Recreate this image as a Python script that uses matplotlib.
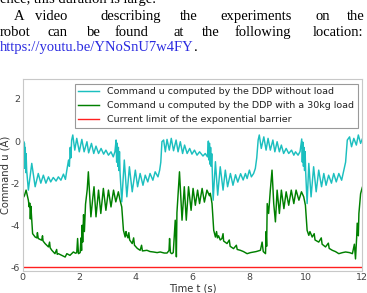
import matplotlib
matplotlib.use("Agg")
from matplotlib import pyplot as plt

plt.rcParams["axes.unicode_minus"] = False

# Courbes (temps en s, commande en A)
t_sans_charge = [0.0, 0.02, 0.03, 0.05, 0.06, 0.08, 0.09, 0.11, 0.12, 0.14, 0.2, 0.32, 0.44, 0.55, 0.64,
                 0.73, 0.82, 0.91, 0.99, 1.08, 1.18, 1.26, 1.35, 1.44, 1.51, 1.56, 1.62, 1.65, 1.68, 1.7,
                 1.73, 1.77, 1.84, 1.91, 2.0, 2.09, 2.17, 2.27, 2.33, 2.43, 2.51, 2.59, 2.68, 2.77, 2.86,
                 2.94, 3.03, 3.12, 3.2, 3.26, 3.3, 3.32, 3.34, 3.36, 3.38, 3.4, 3.42, 3.44, 3.5, 3.59,
                 3.68, 3.77, 3.87, 3.98, 4.06, 4.15, 4.25, 4.33, 4.42, 4.5, 4.6, 4.68, 4.78, 4.84, 4.88,
                 4.92, 4.98, 5.04, 5.1, 5.18, 5.25, 5.33, 5.42, 5.49, 5.57, 5.65, 5.72, 5.81, 5.9, 5.98,
                 6.07, 6.16, 6.25, 6.37, 6.45, 6.53, 6.56, 6.58, 6.6, 6.62, 6.64, 6.66, 6.68, 6.73, 6.81,
                 6.89, 6.98, 7.08, 7.16, 7.24, 7.34, 7.43, 7.52, 7.6, 7.7, 7.79, 7.87, 7.93, 8.01, 8.08,
                 8.16, 8.22, 8.27, 8.32, 8.36, 8.43, 8.52, 8.6, 8.67, 8.75, 8.84, 8.91, 8.99, 9.07, 9.14,
                 9.22, 9.31, 9.4, 9.5, 9.58, 9.64, 9.73, 9.8, 9.86, 9.88, 9.9, 9.92, 9.94, 9.96, 9.98,
                 10.0, 10.05, 10.11, 10.19, 10.28, 10.37, 10.46, 10.56, 10.64, 10.72, 10.81, 10.91, 10.99,
                 11.08, 11.17, 11.27, 11.35, 11.41, 11.47, 11.55, 11.62, 11.7, 11.79, 11.86, 11.94, 12.0]
u_sans_charge = [0.1, -1.0, 0.0, -1.3, -0.1, -1.2, -0.3, -1.5, -0.6, -1.38, -2.33, -1.06, -2.17, -1.54, -2.0,
                 -1.62, -2.0, -1.7, -1.94, -1.73, -1.9, -1.7, -1.86, -1.57, -1.82, -1.38, -0.9, -1.2, -0.3, -0.8,
                 0.05, 0.29, -0.43, 0.13, -0.51, 0.08, -0.51, -0.03, -0.56, -0.11, -0.59, -0.24, -0.59, -0.35, -0.62,
                 -0.43, -0.67, -0.51, -0.75, -0.5, 0.05, -1.0, -0.1, -1.2, -0.3, -1.4, -0.5, -1.5, -2.89, -0.9,
                 -2.65, -1.22, -2.41, -1.38, -2.17, -1.54, -2.1, -1.62, -1.94, -1.54, -1.86, -1.46, -1.7, -1.38, -1.0,
                 -0.03, 0.05, -0.51, 0.08, -0.43, 0.13, -0.46, 0.05, -0.51, -0.03, -0.59, -0.19, -0.59, -0.35, -0.62,
                 -0.43, -0.67, -0.51, -0.71, -0.59, -0.75, 0.0, -0.9, -0.1, -1.1, -0.3, -1.2, -0.6, -2.81, -0.98,
                 -2.57, -1.22, -2.33, -1.38, -2.17, -1.54, -2.1, -1.6, -1.95, -1.55, -1.85, -1.54, -1.78, -1.38, -1.7,
                 -1.54, -1.3, -0.8, 0.05, 0.29, -0.35, 0.2, -0.43, 0.13, -0.43, 0.05, -0.51, -0.03, -0.51, -0.19,
                 -0.59, -0.35, -0.59, -0.43, -0.67, -0.51, -0.67, -0.5, 0.1, -1.0, -0.05, -1.2, -0.3, -1.4, -0.5,
                 -1.5, -2.97, -1.06, -2.65, -1.22, -2.41, -1.38, -2.17, -1.54, -2.1, -1.62, -2.0, -1.54,
                 -1.94, -1.54, -1.86, -1.38, -1.0, 0.05, 0.2, -0.27, 0.13, -0.19, 0.29, -0.11, 0.1]

t_charge = [0.0, 0.06, 0.12, 0.2, 0.23, 0.25, 0.27, 0.29, 0.32, 0.35, 0.44, 0.5, 0.52, 0.55, 0.67, 0.7,
            0.72, 0.79, 0.91, 0.95, 0.97, 1.03, 1.14, 1.2, 1.22, 1.26, 1.38, 1.5, 1.56, 1.67, 1.79, 1.87,
            1.91, 1.94, 1.97, 2.03, 2.06, 2.08, 2.1, 2.12, 2.15, 2.18, 2.22, 2.28, 2.32, 2.41, 2.48, 2.52,
            2.59, 2.68, 2.76, 2.85, 2.94, 3.03, 3.12, 3.21, 3.29, 3.38, 3.44, 3.5, 3.56, 3.62, 3.65, 3.68,
            3.72, 3.75, 3.78, 3.87, 3.92, 3.95, 4.05, 4.15, 4.2, 4.23, 4.39, 4.5, 4.62, 4.75, 4.86, 5.0,
            5.1, 5.17, 5.19, 5.22, 5.27, 5.32, 5.36, 5.39, 5.42, 5.43, 5.45, 5.49, 5.54, 5.63, 5.71, 5.78,
            5.86, 5.95, 6.02, 6.1, 6.18, 6.25, 6.34, 6.42, 6.51, 6.6, 6.63, 6.69, 6.75, 6.81, 6.85, 6.88,
            6.92, 6.98, 7.04, 7.08, 7.1, 7.22, 7.3, 7.33, 7.45, 7.55, 7.58, 7.69, 7.8, 7.93, 8.05, 8.16,
            8.25, 8.4, 8.46, 8.5, 8.58, 8.6, 8.62, 8.64, 8.69, 8.75, 8.81, 8.87, 8.93, 8.99, 9.07, 9.14,
            9.23, 9.31, 9.4, 9.49, 9.58, 9.66, 9.76, 9.85, 9.93, 9.99, 10.05, 10.11, 10.15, 10.23, 10.3,
            10.33, 10.46, 10.55, 10.58, 10.7, 10.8, 10.83, 10.94, 11.05, 11.17, 11.3, 11.41, 11.55, 11.65,
            11.72, 11.76, 11.8, 11.82, 11.86, 11.88, 11.94, 12.0]
u_charge = [-2.73, -2.6, -2.33, -2.81, -3.13, -2.95, -3.7, -3.1, -3.76, -4.4, -4.56, -4.6, -4.35, -4.63, -4.71, -4.5,
            -4.75, -4.87, -5.03, -4.8, -5.07, -5.19, -5.35, -5.15, -5.38, -5.35, -5.43, -5.51, -5.35, -5.43, -5.27, -5.33,
            -5.3, -4.63, -5.35, -5.3, -4.6, -5.2, -4.0, -4.8, -3.5, -4.3, -3.0, -2.3, -1.46, -3.6, -2.65, -2.17,
            -3.6, -2.33, -3.44, -2.25, -3.29, -2.33, -3.13, -2.33, -2.89, -2.41, -2.81, -3.13, -4.24, -4.56, -4.3, -4.48,
            -4.6, -4.35, -4.7, -4.87, -4.6, -4.95, -5.1, -5.19, -4.95, -5.22, -5.19, -5.25, -5.27, -5.3, -5.27, -5.32,
            -5.32, -5.2, -4.63, -5.3, -5.35, -5.3, -4.4, -3.76, -4.8, -5.5, -3.4, -2.5, -1.46, -3.76, -2.17, -3.76,
            -2.17, -3.29, -2.25, -3.05, -2.33, -2.97, -2.25, -2.9, -2.33, -2.6, -2.48, -2.97, -4.24, -4.56, -4.3, -4.6,
            -4.5, -4.7, -4.63, -4.4, -4.75, -4.87, -4.7, -5.0, -5.11, -4.95, -5.15, -5.19, -5.25, -5.35, -5.3, -5.27,
            -5.25, -5.19, -4.8, -5.25, -5.35, -4.3, -5.0, -2.97, -3.44, -2.33, -1.38, -2.97, -3.84, -2.33, -3.44, -2.33,
            -3.21, -2.41, -3.05, -2.33, -2.97, -2.33, -2.81, -2.41, -2.65, -3.05, -4.24, -4.48, -4.3, -4.56, -4.4,
            -4.7, -4.8, -4.6, -4.9, -5.03, -4.85, -5.1, -5.19, -5.25, -5.35, -5.3, -5.27, -5.3, -5.35,
            -4.9, -5.6, -4.6, -3.9, -4.5, -3.44, -2.5, -2.2]

t_limite = [0, 12]
u_limite = [-6, -6]

etiquettes = ["Command u computed by the DDP without load",
              "Command u computed by the DDP with a 30kg load",
              "Current limit of the exponential barrier"]

W, H = 367, 293
fig = plt.figure(figsize=(W / 100, H / 100), dpi=100)

# Texte du papier au-dessus de la figure (mots justifiés)
serif = "Liberation Serif"
lignes = [
    (3, [(0, "ence, this duration is large.")]),
    (20, [(14, "A"), (35, "video"), (100, "describing"), (180, "the"), (220, "experiments"),
          (315, "on"), (347, "the")]),
    (36, [(0, "robot"), (47, "can"), (87, "be"), (115, "found"), (173, "at"), (202, "the"),
          (235, "following"), (313, "location:")]),
]
for y, mots in lignes:
    for x, mot in mots:
        fig.text(x / W, 1 - y / H, mot, family=serif, fontsize=10.5, va="baseline", ha="left")
fig.text(0 / W, 1 - 51 / H, "https://youtu.be/YNoSnU7w4FY", family=serif, fontsize=10.5,
         va="baseline", ha="left", color="#2a2ae0")
fig.text(194 / W, 1 - 51 / H, ".", family=serif, fontsize=10.5, va="baseline", ha="left")

ax = fig.add_axes([22.7 / W, 1 - 270.5 / H, (362.3 - 22.7) / W, (270.5 - 79) / H])
l2, = ax.plot(t_charge, u_charge, color="#008000", lw=1.05, label=etiquettes[1])
l1, = ax.plot(t_sans_charge, u_sans_charge, color="#1cbfbf", lw=1.05, label=etiquettes[0])
l3, = ax.plot(t_limite, u_limite, color="#ff2020", lw=1.0, label=etiquettes[2])

ax.set_xlim(0, 12)
ax.set_ylim(-6.15, 2.95)
ax.set_xticks([0, 2, 4, 6, 8, 10, 12])
ax.set_yticks([-6, -4, -2, 0, 2])
ax.tick_params(length=0, labelsize=6.8, colors="#444444", pad=2)
for s in ax.spines.values():
    s.set_color("#c8c8c8")
ax.set_xlabel("Time t (s)", fontsize=7.2, color="#333333", labelpad=1)
ax.set_ylabel("Command u (A)", fontsize=7.2, color="#333333")
ax.yaxis.set_label_coords(-0.036, 0.5)

leg = ax.legend([l1, l2, l3], etiquettes, loc="upper right", fontsize=6.8, fancybox=False,
                edgecolor="#999999", framealpha=1, handlelength=2.2, borderaxespad=0.5)
leg.get_frame().set_linewidth(0.8)
for t in leg.get_texts():
    t.set_color("#222222")

fig.savefig("out.png", dpi=100)
